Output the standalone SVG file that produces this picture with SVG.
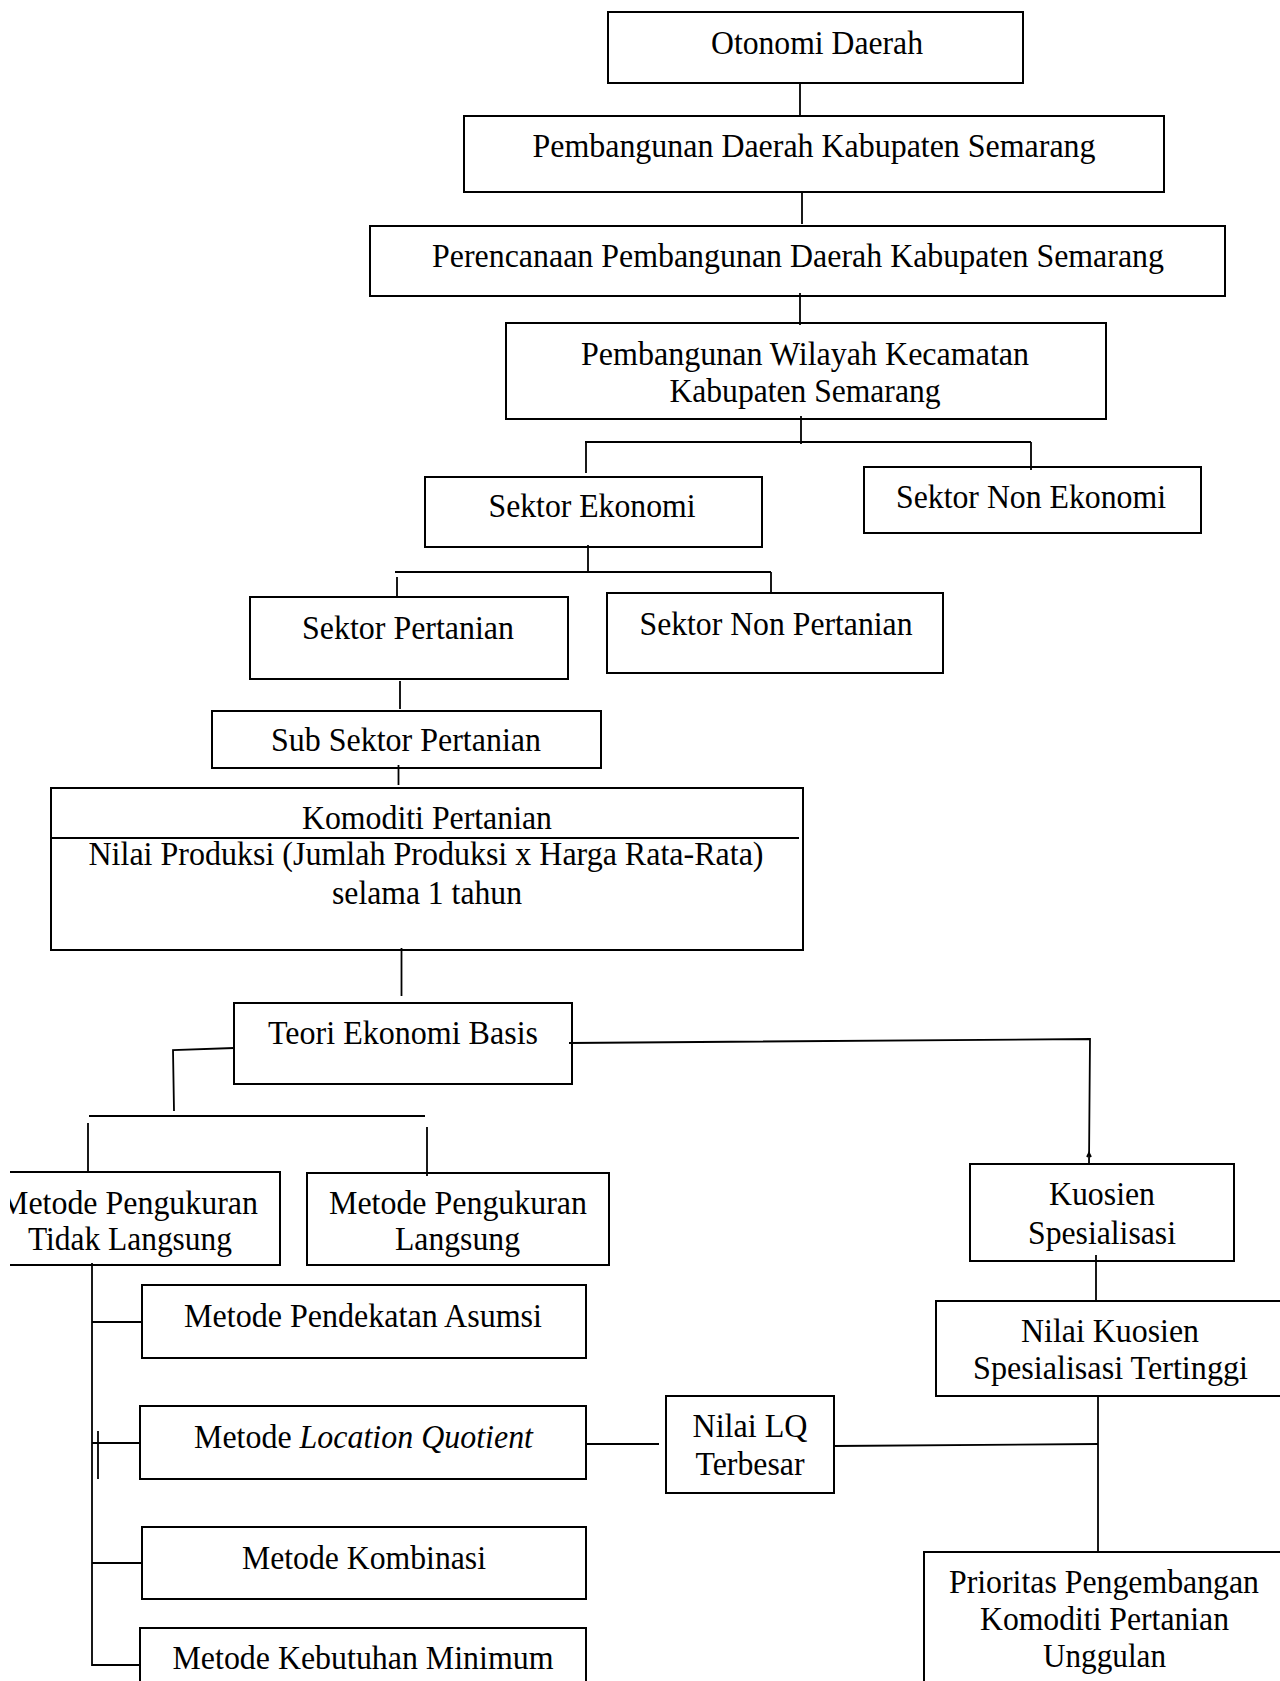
<svg xmlns="http://www.w3.org/2000/svg" width="1280" height="1681" viewBox="0 0 1280 1681">
<style>
.box{fill:none;stroke:#000;stroke-width:2}
.c line,.c polyline{stroke:#000;stroke-width:1.8;fill:none}
text{font-family:"Liberation Serif","Times New Roman",serif;font-size:33px;fill:#000;text-anchor:middle;transform:translateY(2px)}
</style>
<defs>
<clipPath id="clipL"><rect x="10" y="1160" width="300" height="120"/></clipPath>
</defs>
<rect width="1280" height="1681" fill="#fff"/>
<g class="c" id="connectors">
<line x1="800" y1="83" x2="800" y2="117"/>
<line x1="802" y1="192" x2="802" y2="224"/>
<line x1="800" y1="293" x2="800" y2="325"/>
<line x1="801" y1="416" x2="801" y2="444"/>
<line x1="585" y1="442" x2="1031" y2="442"/>
<line x1="586" y1="442" x2="586" y2="473"/>
<line x1="1031" y1="442" x2="1031" y2="470"/>
<line x1="588" y1="545" x2="588" y2="572"/>
<line x1="395" y1="572" x2="771" y2="572"/>
<line x1="397" y1="577" x2="397" y2="597"/>
<line x1="771" y1="572" x2="771" y2="592"/>
<line x1="400" y1="681" x2="400" y2="709"/>
<line x1="398.5" y1="765" x2="398.5" y2="785"/>
<line x1="401.5" y1="948" x2="401.5" y2="996"/>
<polyline points="234,1048 173,1050 174,1111"/>
<line x1="89" y1="1116" x2="425" y2="1116"/>
<line x1="88" y1="1123" x2="88" y2="1172"/>
<line x1="427" y1="1127" x2="427" y2="1176"/>
<polyline points="569,1043 1090,1039 1089,1164"/>
<polyline points="1087,1157 1089,1153 1091,1157"/>
<line x1="1096" y1="1255" x2="1096" y2="1302"/>
<line x1="1098" y1="1396" x2="1098" y2="1552"/>
<line x1="834" y1="1446" x2="1098" y2="1444"/>
<line x1="586" y1="1444" x2="659" y2="1444"/>
<line x1="92" y1="1263" x2="92" y2="1666"/>
<line x1="92" y1="1322" x2="142" y2="1322"/>
<line x1="92" y1="1443" x2="140" y2="1443"/>
<line x1="98" y1="1431" x2="98" y2="1479"/>
<line x1="92" y1="1563" x2="142" y2="1563"/>
<line x1="92" y1="1665" x2="140" y2="1665"/>
</g>
<g id="n-otonomi"><rect class="box" x="608" y="12" width="415" height="71"/><text x="817" y="52" textLength="212" lengthAdjust="spacingAndGlyphs">Otonomi Daerah</text></g>
<g id="n-pembangunan-daerah"><rect class="box" x="464" y="116" width="700" height="76"/><text x="814" y="155" textLength="563" lengthAdjust="spacingAndGlyphs">Pembangunan Daerah Kabupaten Semarang</text></g>
<g id="n-perencanaan"><rect class="box" x="370" y="226" width="855" height="70"/><text x="798" y="265" textLength="732" lengthAdjust="spacingAndGlyphs">Perencanaan Pembangunan Daerah Kabupaten Semarang</text></g>
<g id="n-wilayah"><rect class="box" x="506" y="323" width="600" height="96"/><text x="805" y="363" textLength="448" lengthAdjust="spacingAndGlyphs">Pembangunan Wilayah Kecamatan</text><text x="805" y="400" textLength="271" lengthAdjust="spacingAndGlyphs">Kabupaten Semarang</text></g>
<g id="n-ekonomi"><rect class="box" x="425" y="477" width="337" height="70"/><text x="592" y="515" textLength="207" lengthAdjust="spacingAndGlyphs">Sektor Ekonomi</text></g>
<g id="n-non-ekonomi"><rect class="box" x="864" y="467" width="337" height="66"/><text x="1031" y="506" textLength="270" lengthAdjust="spacingAndGlyphs">Sektor Non Ekonomi</text></g>
<g id="n-pertanian"><rect class="box" x="250" y="597" width="318" height="82"/><text x="408" y="637" textLength="212" lengthAdjust="spacingAndGlyphs">Sektor Pertanian</text></g>
<g id="n-non-pertanian"><rect class="box" x="607" y="593" width="336" height="80"/><text x="776" y="633" textLength="273" lengthAdjust="spacingAndGlyphs">Sektor Non Pertanian</text></g>
<g id="n-sub-sektor"><rect class="box" x="212" y="711" width="389" height="57"/><text x="406" y="749" textLength="270" lengthAdjust="spacingAndGlyphs">Sub Sektor Pertanian</text></g>
<g id="n-komoditi"><rect class="box" x="51" y="788" width="752" height="162"/><line x1="50" y1="838" x2="799" y2="838" stroke="#000" stroke-width="2"/><text x="427" y="827" textLength="250" lengthAdjust="spacingAndGlyphs">Komoditi Pertanian</text><text x="426" y="863" textLength="675" lengthAdjust="spacingAndGlyphs">Nilai Produksi (Jumlah Produksi x Harga Rata-Rata)</text><text x="427" y="902" textLength="190" lengthAdjust="spacingAndGlyphs">selama 1 tahun</text></g>
<g id="n-teori"><rect class="box" x="234" y="1003" width="338" height="81"/><text x="403" y="1042" textLength="270" lengthAdjust="spacingAndGlyphs">Teori Ekonomi Basis</text></g>
<g id="n-tidak-langsung"><path class="box" d="M10,1172 H280 V1265 H10"/><g clip-path="url(#clipL)"><text x="129" y="1212" textLength="258" lengthAdjust="spacingAndGlyphs">Metode Pengukuran</text></g><text x="130" y="1248" textLength="204" lengthAdjust="spacingAndGlyphs">Tidak Langsung</text></g>
<g id="n-langsung"><rect class="box" x="307" y="1173" width="302" height="92"/><text x="458" y="1212" textLength="258" lengthAdjust="spacingAndGlyphs">Metode Pengukuran</text><text x="457.5" y="1248" textLength="125" lengthAdjust="spacingAndGlyphs">Langsung</text></g>
<g id="n-kuosien"><rect class="box" x="970" y="1164" width="264" height="97"/><text x="1102" y="1203" textLength="106" lengthAdjust="spacingAndGlyphs">Kuosien</text><text x="1102" y="1242" textLength="148" lengthAdjust="spacingAndGlyphs">Spesialisasi</text></g>
<g id="n-nilai-kuosien"><rect class="box" x="936" y="1301" width="360" height="95"/><text x="1110" y="1340" textLength="178" lengthAdjust="spacingAndGlyphs">Nilai Kuosien</text><text x="1110.5" y="1377" textLength="275" lengthAdjust="spacingAndGlyphs">Spesialisasi Tertinggi</text></g>
<g id="n-asumsi"><rect class="box" x="142" y="1285" width="444" height="73"/><text x="363" y="1325" textLength="358" lengthAdjust="spacingAndGlyphs">Metode Pendekatan Asumsi</text></g>
<g id="n-lq"><rect class="box" x="140" y="1406" width="446" height="73"/><text x="363.5" y="1446" textLength="339" lengthAdjust="spacingAndGlyphs">Metode <tspan font-style="italic">Location Quotient</tspan></text></g>
<g id="n-kombinasi"><rect class="box" x="142" y="1527" width="444" height="72"/><text x="364" y="1567" textLength="244" lengthAdjust="spacingAndGlyphs">Metode Kombinasi</text></g>
<g id="n-kebutuhan"><rect class="box" x="140" y="1628" width="446" height="70"/><text x="363" y="1667" textLength="381" lengthAdjust="spacingAndGlyphs">Metode Kebutuhan Minimum</text></g>
<g id="n-nilai-lq"><rect class="box" x="666" y="1396" width="168" height="97"/><text x="750" y="1435" textLength="115" lengthAdjust="spacingAndGlyphs">Nilai LQ</text><text x="750" y="1473" textLength="109" lengthAdjust="spacingAndGlyphs">Terbesar</text></g>
<g id="n-prioritas"><rect class="box" x="924" y="1552" width="370" height="150"/><text x="1104" y="1591" textLength="310" lengthAdjust="spacingAndGlyphs">Prioritas Pengembangan</text><text x="1104.5" y="1628" textLength="249" lengthAdjust="spacingAndGlyphs">Komoditi Pertanian</text><text x="1104.5" y="1665" textLength="123" lengthAdjust="spacingAndGlyphs">Unggulan</text></g>
</svg>
